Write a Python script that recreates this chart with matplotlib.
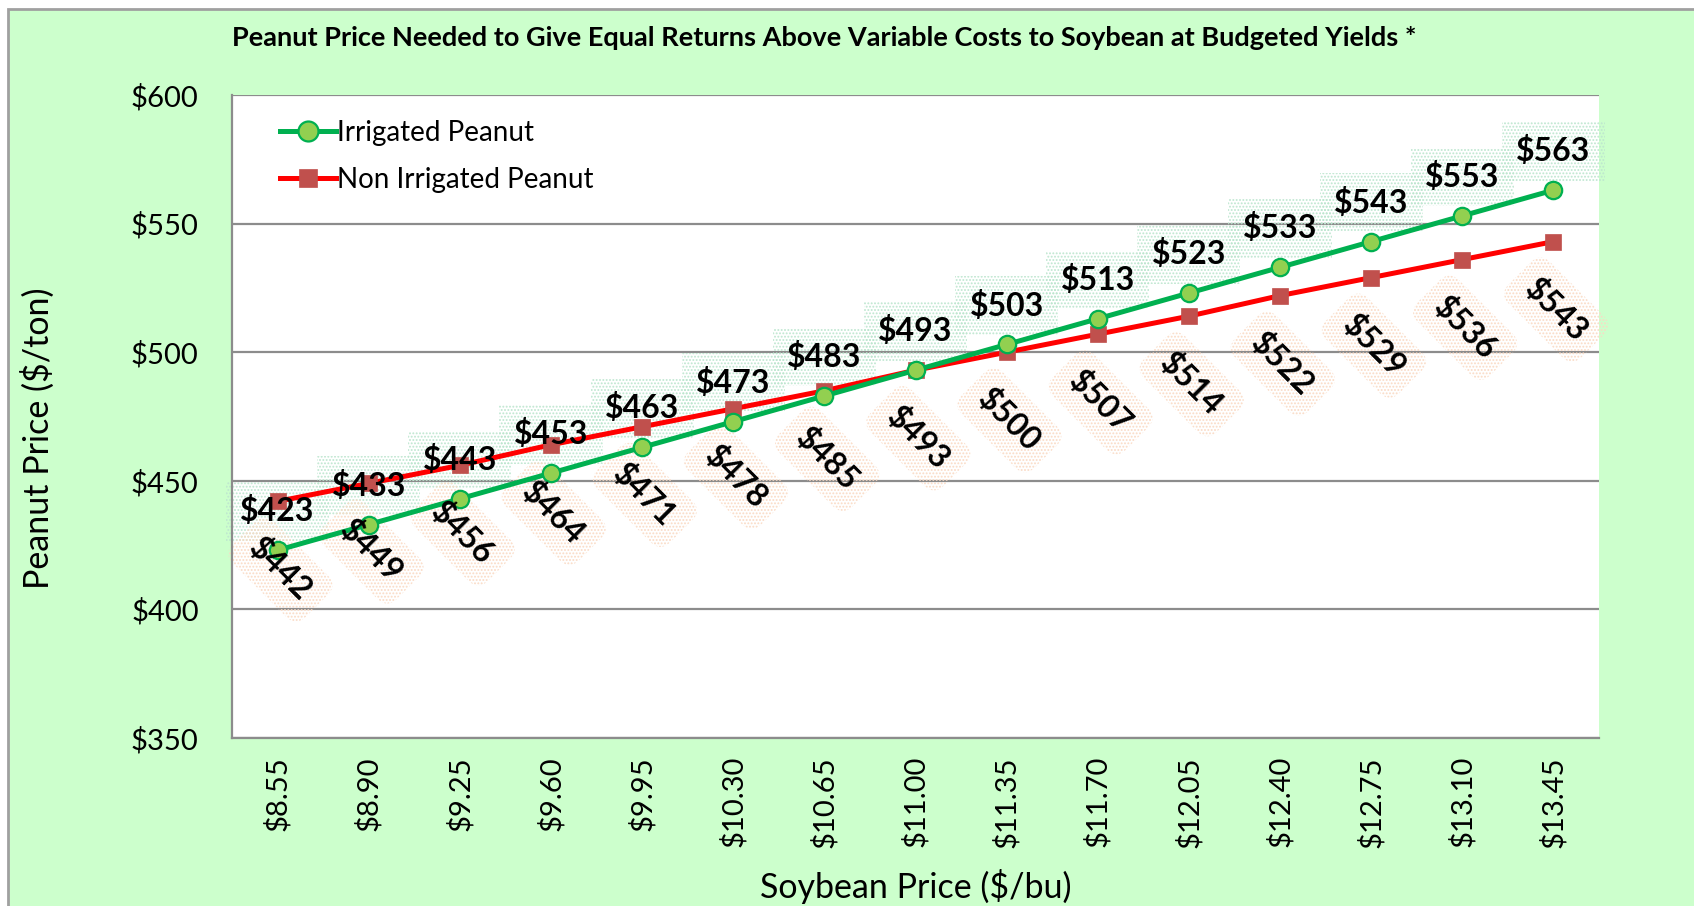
import matplotlib
matplotlib.use("Agg")
import matplotlib.pyplot as plt
from matplotlib.patches import Rectangle

# ── Data ──
soy_prices = ["$8.55", "$8.90", "$9.25", "$9.60", "$9.95", "$10.30", "$10.65", "$11.00",
              "$11.35", "$11.70", "$12.05", "$12.40", "$12.75", "$13.10", "$13.45"]
irrigated = [423, 433, 443, 453, 463, 473, 483, 493, 503, 513, 523, 533, 543, 553, 563]
non_irrigated = [442, 449, 456, 464, 471, 478, 485, 493, 500, 507, 514, 522, 529, 536, 543]
y_ticks = [350, 400, 450, 500, 550, 600]

plt.rcParams["font.family"] = ["Lato", "DejaVu Sans"]
plt.rcParams["hatch.linewidth"] = 0.9

W, H = 1694, 906
fig = plt.figure(figsize=(W / 100, H / 100), dpi=100)
fig.patch.set_facecolor("white")

# green chart area with gray frame (clipped at right/bottom)
bg = Rectangle((8 / W, -0.05), 1.1, 1 - 9 / H + 0.05, transform=fig.transFigure,
               facecolor="#CCFFCC", edgecolor="#A0A0A0", linewidth=2, zorder=-5)
fig.patches.append(bg)

ax = fig.add_axes([232 / W, 1 - 738 / H, (1599 - 232) / W, (738 - 95) / H])
ax.set_zorder(2)
ax.set_facecolor("white")

x = list(range(len(soy_prices)))
green_line = "#00B050"
red_line = "#FF0000"

ax.plot(x, irrigated, color=green_line, linewidth=3.6, marker="o", markersize=12.5,
        markerfacecolor="#92D050", markeredgecolor=green_line, markeredgewidth=1.6,
        zorder=4, label="Irrigated Peanut")
ax.plot(x, non_irrigated, color=red_line, linewidth=3.6, marker="s", markersize=11.5,
        markerfacecolor="#C0504D", markeredgecolor="#C0504D", markeredgewidth=0.5,
        zorder=3, label="Non Irrigated Peanut")


def label(xv, yv, dy, dx, rot, style, hatch_color):
    kw = dict(xytext=(dx, dy), textcoords="offset points", ha="center", va="center",
              rotation=rot, rotation_mode="anchor", fontsize=23, fontweight="bold")
    # dotted box under the lines, text above everything
    ax.annotate(f"${yv}", (xv, yv), color="none", zorder=2,
                bbox=dict(boxstyle=style, facecolor="none", edgecolor=hatch_color,
                          linewidth=0, hatch="....."), **kw)
    ax.annotate(f"${yv}", (xv, yv), color="black", zorder=6, **kw)


for xi, v in zip(x, irrigated):
    label(xi, v, 28, 0, 0, "square,pad=0.45", "#BDE6CF")
for xi, v in zip(x, non_irrigated):
    label(xi, v, -49, 2, -45, "round,pad=0.45", "#FADAC4")

# ── Axes styling ──
ax.set_xlim(-0.5, len(soy_prices) - 0.5)
ax.set_ylim(350, 600)
ax.set_yticks(y_ticks)
ax.set_yticklabels([f"${t}" for t in y_ticks], fontsize=21)
ax.set_xticks(x)
ax.set_xticklabels(soy_prices, rotation=90, fontsize=21)
ax.tick_params(axis="both", length=0)
ax.tick_params(axis="y", pad=24)
ax.tick_params(axis="x", pad=13)
ax.yaxis.grid(True, color="#8C8C8C", linewidth=1.6, zorder=1)
ax.set_axisbelow(True)
for s in ["top", "right"]:
    ax.spines[s].set_visible(False)
for s in ["left", "bottom"]:
    ax.spines[s].set_color("#8C8C8C")
    ax.spines[s].set_linewidth(1.6)

fig.text(38 / W, 1 - 438 / H, "Peanut Price ($/ton)", rotation=90, ha="center",
         va="center", fontsize=24.5)
fig.text(916 / W, 1 - 886 / H, "Soybean Price ($/bu)", ha="center", va="center",
         fontsize=24.5)
fig.text(232 / W, 1 - 38 / H,
         "Peanut Price Needed to Give Equal Returns Above Variable Costs to Soybean at Budgeted Yields *",
         ha="left", va="center", fontsize=19.5, fontweight="bold")

leg = ax.legend(loc="upper left", bbox_to_anchor=(0.017, 1.0), frameon=False,
                fontsize=20, handlelength=2.0, handletextpad=0.05, labelspacing=0.75,
                markerscale=1.15)

fig.savefig("out.png", dpi=100, facecolor=fig.get_facecolor())
